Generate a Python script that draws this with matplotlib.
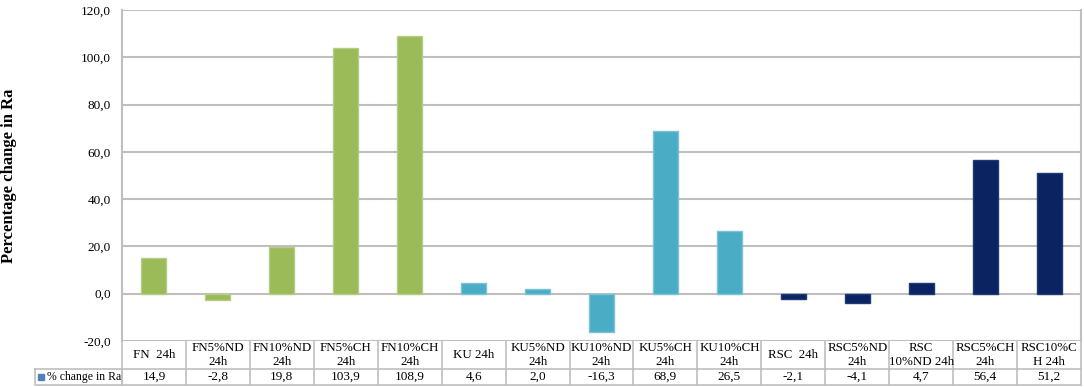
import matplotlib
matplotlib.use("Agg")
import matplotlib.pyplot as plt
from matplotlib.transforms import blended_transform_factory
from matplotlib.patches import Rectangle

categories = ["FN  24h", "FN5%ND\n24h", "FN10%ND\n24h", "FN5%CH\n24h", "FN10%CH\n24h",
              "KU 24h", "KU5%ND\n24h", "KU10%ND\n24h", "KU5%CH\n24h", "KU10%CH\n24h",
              "RSC  24h", "RSC5%ND\n24h", "RSC\n10%ND 24h", "RSC5%CH\n24h", "RSC10%C\nH 24h"]
values = [14.9, -2.8, 19.8, 103.9, 108.9, 4.6, 2.0, -16.3, 68.9, 26.5, -2.1, -4.1, 4.7, 56.4, 51.2]
groups = ["FN"] * 5 + ["KU"] * 5 + ["RSC"] * 5
group_colors = {"FN": "#9BBB59", "KU": "#4BACC6", "RSC": "#0B2361"}
edge_colors = {"FN": "#B5CE86", "KU": "#7CC3D6", "RSC": "#1F3A7A"}
series_name = "% change in Ra"
yticks = [-20, 0, 20, 40, 60, 80, 100, 120]

plt.rcParams['font.family'] = ['Liberation Serif', 'DejaVu Serif']

W, H = 1084, 387
fig = plt.figure(figsize=(W / 100, H / 100), dpi=100)
L, R, T, B = 122, 1081, 10, 341
ax = fig.add_axes([L / W, 1 - B / H, (R - L) / W, (B - T) / H])

x = list(range(len(categories)))
ax.bar(x, values, width=0.39, color=[group_colors[g] for g in groups],
       edgecolor=[edge_colors[g] for g in groups], linewidth=1.0, zorder=3)

ax.set_xlim(-0.5, len(categories) - 0.5)
ax.set_ylim(-20, 120)
ax.set_yticks(yticks)
ax.set_yticklabels([f"{v:.1f}".replace(".", ",") for v in yticks], fontsize=9.5)
ax.tick_params(axis='y', length=0, pad=8)
ax.set_xticks([])
ax.grid(axis='y', color="#BFBFBF", linewidth=1.5, zorder=0)
for s in ["top", "bottom"]:
    ax.spines[s].set_visible(False)
for s in ["left", "right"]:
    ax.spines[s].set_color("#BFBFBF")
    ax.spines[s].set_linewidth(1.5)

fig.text(9 / W, 1 - 176 / H, "Percentage change in Ra", rotation=90, fontsize=12,
         fontweight='bold', ha='center', va='center')

# table
ah = B - T
y0 = 0.0
y1 = -28 / ah
y2 = -44 / ah
tr = blended_transform_factory(ax.transData, ax.transAxes)
gc = "#BFBFBF"
n = len(categories)
for i in range(n + 1):
    ax.plot([i - 0.5, i - 0.5], [y0, y2], color=gc, lw=1.2, transform=tr, clip_on=False)
ax.plot([-0.5, n - 0.5], [y2, y2], color=gc, lw=1.2, transform=tr, clip_on=False)
ax.plot([-0.5, n - 0.5], [y1, y1], color=gc, lw=1.2, transform=tr, clip_on=False)
xl = (35 - L) / (R - L)
ax.plot([xl, 0, 0, xl, xl], [y1, y1, y2, y2, y1], color=gc, lw=1.2,
        transform=ax.transAxes, clip_on=False)
for i, (c, v) in enumerate(zip(categories, values)):
    ax.text(i, (y0 + y1) / 2, c, transform=tr, ha='center', va='center', fontsize=9.3,
            linespacing=1.3, clip_on=False)
    ax.text(i, (y1 + y2) / 2, f"{v:.1f}".replace(".", ","), transform=tr, ha='center',
            va='center', fontsize=9.5, clip_on=False)
sq = 6 / (R - L)
ax.add_patch(Rectangle(((38 - L) / (R - L), (y1 + y2) / 2 - 3 / ah), sq, 6 / ah,
                       transform=ax.transAxes, color="#4F81BD", clip_on=False))
ax.text((47 - L) / (R - L), (y1 + y2) / 2, series_name, transform=ax.transAxes,
        ha='left', va='center', fontsize=8.5, clip_on=False)

fig.savefig("out.png", dpi=100)
